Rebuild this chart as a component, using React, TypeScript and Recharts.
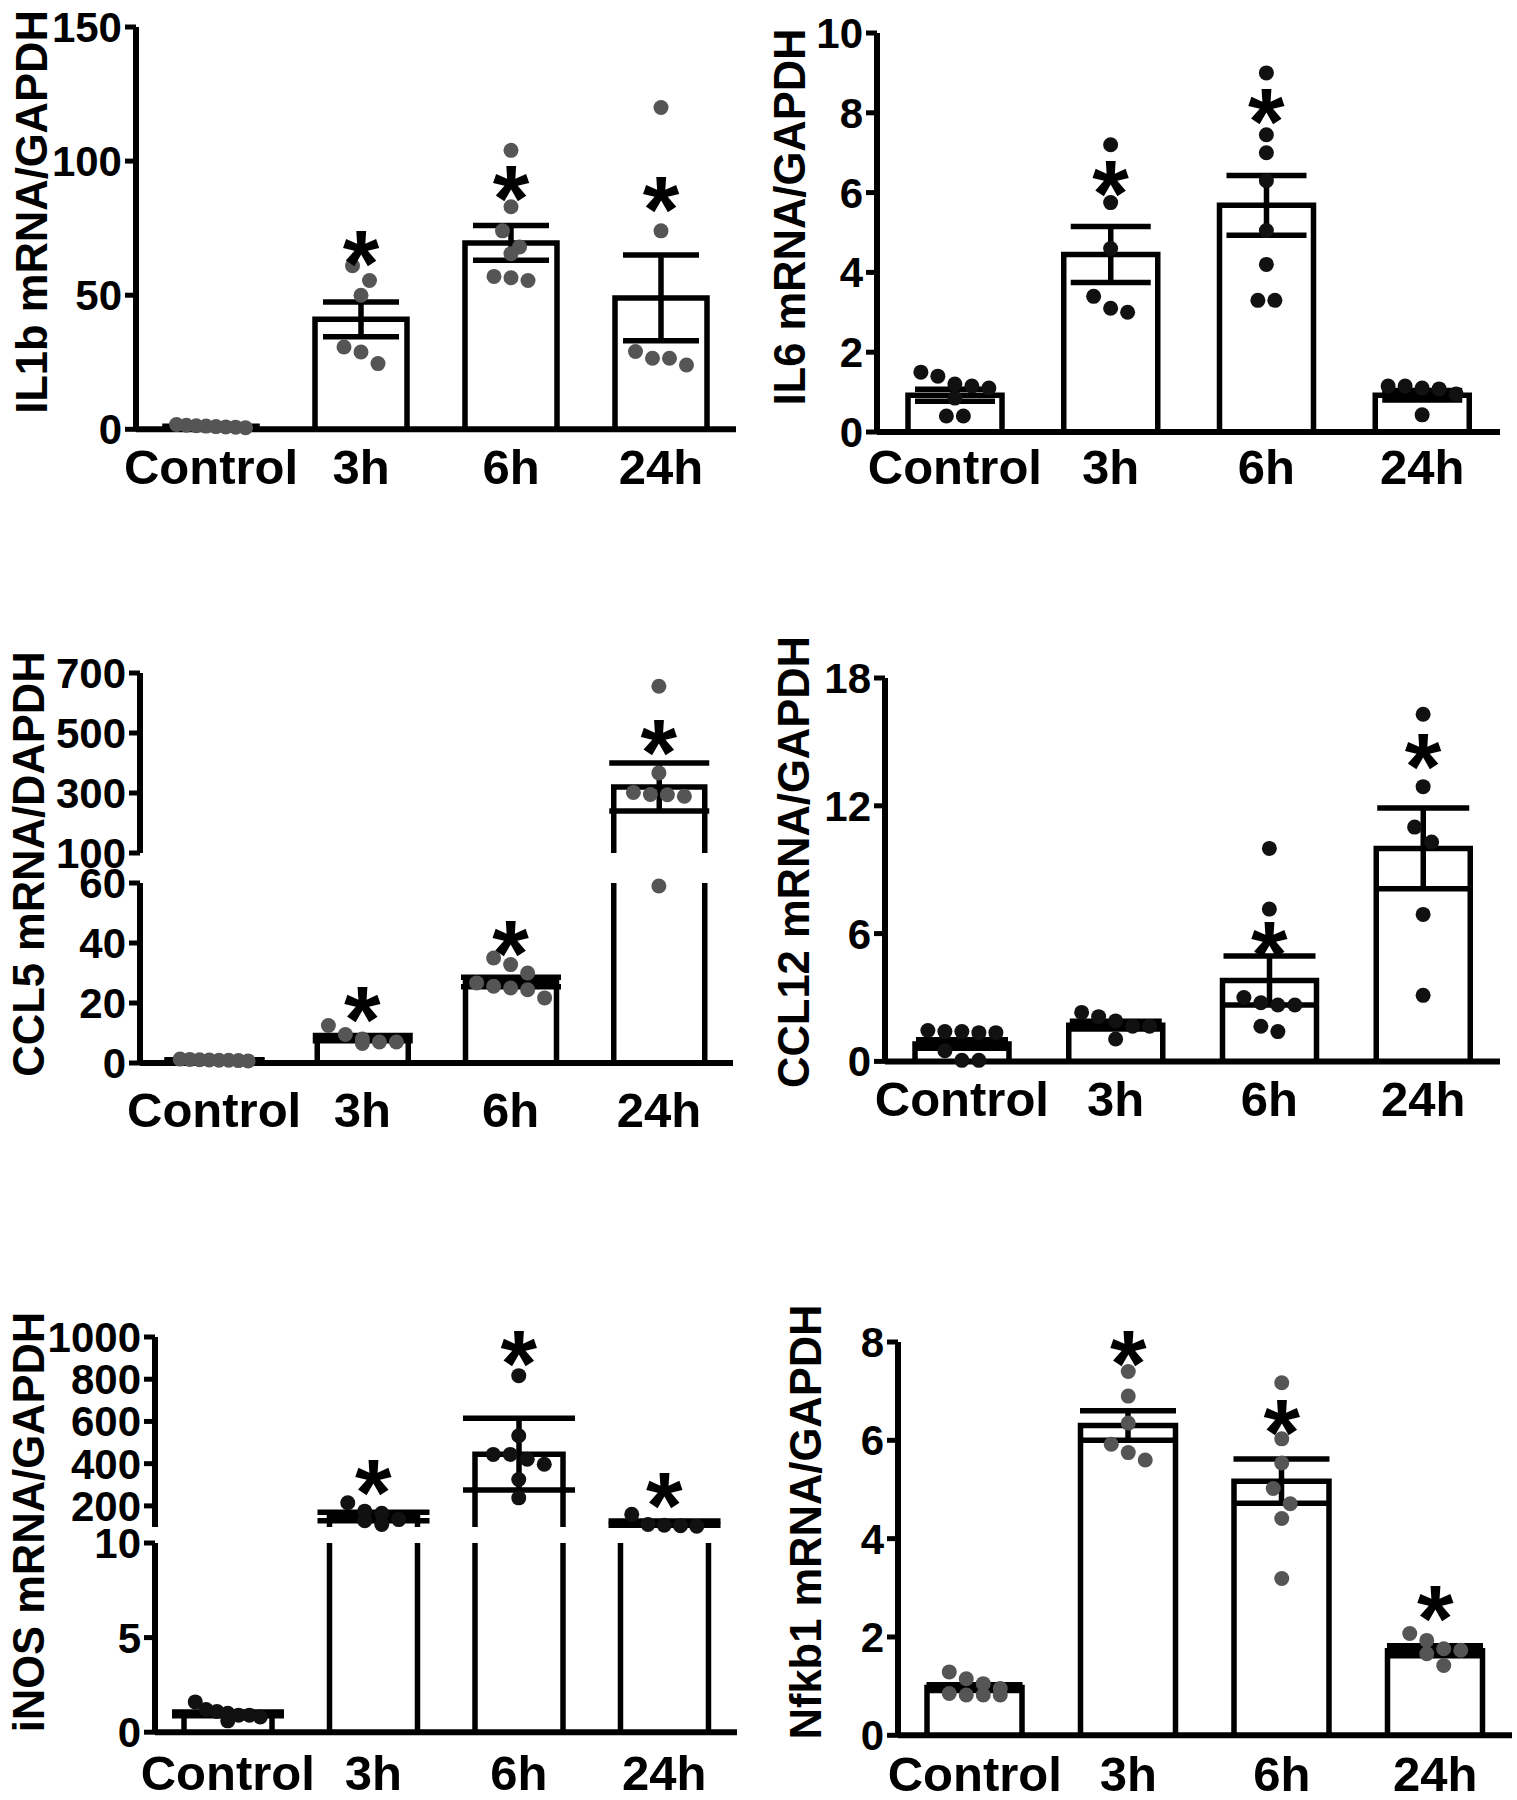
import React from "react";
import { ComposedChart, Bar, Scatter, XAxis, YAxis, ErrorBar } from "recharts";

const FONT = '"Liberation Sans", Arial, Helvetica, sans-serif';
const groups = ["Control", "3h", "6h", "24h"];

// IL1b
const il1bMean = [1.1, 41, 69.5, 49];
const il1bSem = [0.3, 6.5, 6.5, 16];
const il1bDots = [
  [0.8, 1.2, 1.0, 1.5, 1.3, 1.8, 0.9, 0.6],
  [61, 55.5, 50, 30.7, 28.8, 24.5],
  [104, 83, 74, 68, 65.5, 57, 56.5, 55.5],
  [120, 74, 29, 26.5, 26.5, 24],
];
const il1bStars = [null, 68, 92, 88];

// IL6
const il6Mean = [0.92, 4.45, 5.68, 0.92];
const il6Sem = [0.15, 0.7, 0.75, 0.12];
const il6Dots = [
  [1.15, 0.85, 1.1, 1.2, 1.5, 1.4, 0.4, 0.4],
  [7.2, 5.75, 4.6, 3.4, 3.1, 3.0],
  [9.0, 7.45, 7.0, 6.3, 5.05, 4.2, 3.3, 3.3],
  [1.15, 1.1, 1.08, 1.15, 0.95, 0.43],
];
const il6Stars = [null, 6.4, 8.2, null];

// CCL5
const ccl5Mean = [1.0, 8.3, 27, 320];
const ccl5Sem = [0.1, 0.9, 1.6, 80];
const ccl5Dots = [
  [0.8, 1.2, 0.9, 1.1, 1.3, 0.7, 1.0, 0.9],
  [9.5, 12.5, 7.0, 6.5, 8.0, 7.0],
  [35, 32.8, 30, 26.7, 25, 24.4, 25.6, 21.7],
  [656, 367, 302, 295, 294, 289, 59],
];
const ccl5Stars = [null, 20, 42, 490];

// CCL12
const ccl12Mean = [0.82, 1.7, 3.8, 10.0];
const ccl12Sem = [0.2, 0.18, 1.15, 1.9];
const ccl12Dots = [
  [1.35, 1.35, 1.4, 1.45, 1.4, 0.5, 0.05, 0.05],
  [2.1, 1.9, 2.3, 1.65, 1.65, 1.05],
  [10.0, 7.15, 2.75, 2.65, 2.65, 3.0, 1.65, 1.4],
  [16.3, 12.9, 11.0, 10.3, 6.9, 3.1],
];
const ccl12Stars = [null, null, 5.8, 14.6];

// iNOS
const inosMean = [0.97, 150, 445, 118];
const inosSem = [0.1, 20, 170, 10];
const inosDots = [
  [1.0, 0.9, 0.8, 1.1, 1.6, 1.2, 0.9, 0.6],
  [175, 215, 165, 135, 130, 112],
  [817, 532, 444, 444, 421, 397, 325, 238],
  [160, 112, 108, 106, 104],
];
const inosStars = [null, 340, 950, 280];

// Nfkb1
const nfkbMean = [0.97, 6.3, 5.17, 1.72];
const nfkbSem = [0.06, 0.3, 0.45, 0.1];
const nfkbDots = [
  [1.05, 0.85, 0.82, 1.29, 0.82, 1.15, 0.82, 0.95],
  [7.4, 6.9, 6.35, 5.92, 5.75, 5.6],
  [7.17, 6.03, 5.54, 5.02, 4.71, 4.41, 3.19],
  [1.76, 1.93, 2.07, 1.73, 1.66, 1.42],
];
const nfkbStars = [null, 7.9, 6.5, 2.7];

type Seg = { min: number; max: number; top: number; bot: number; ticks: number[] };
type Panel = {
  title: string;
  colX: number;
  axisX: number;
  axisEnd: number;
  segs: Seg[];
  mean: number[];
  sem: number[];
  dots: number[][];
  stars: (number | null)[];
  labelX: number;
  labelY: number;
  xGap: number;
  dotColor: string;
  barW: number;
  capW: number;
};

const GRAY = "#555";
const BLACK = "#111";

const panels: Panel[] = [
  {
    title: "IL1b mRNA/GAPDH", colX: 0, axisX: 136, axisEnd: 736,
    segs: [{ min: 0, max: 150, top: 26.7, bot: 429, ticks: [0, 50, 100, 150] }],
    mean: il1bMean, sem: il1bSem, dots: il1bDots, stars: il1bStars,
    labelX: 32, labelY: 212, xGap: 37, dotColor: GRAY, barW: 92, capW: 38,
  },
  {
    title: "IL6 mRNA/GAPDH", colX: 760, axisX: 877, axisEnd: 1500,
    segs: [{ min: 0, max: 10, top: 33.3, bot: 432.3, ticks: [0, 2, 4, 6, 8, 10] }],
    mean: il6Mean, sem: il6Sem, dots: il6Dots, stars: il6Stars,
    labelX: 790, labelY: 217, xGap: 34, dotColor: BLACK, barW: 94, capW: 40,
  },
  {
    title: "CCL5 mRNA/DAPDH", colX: 0, axisX: 140, axisEnd: 733,
    segs: [
      { min: 0, max: 60, top: 883.3, bot: 1063.3, ticks: [0, 20, 40, 60] },
      { min: 100, max: 700, top: 673.3, bot: 853.3, ticks: [100, 300, 500, 700] },
    ],
    mean: ccl5Mean, sem: ccl5Sem, dots: ccl5Dots, stars: ccl5Stars,
    labelX: 29, labelY: 864, xGap: 46, dotColor: GRAY, barW: 91, capW: 50,
  },
  {
    title: "CCL12 mRNA/GAPDH", colX: 760, axisX: 885, axisEnd: 1500,
    segs: [{ min: 0, max: 18, top: 678.3, bot: 1061.7, ticks: [0, 6, 12, 18] }],
    mean: ccl12Mean, sem: ccl12Sem, dots: ccl12Dots, stars: ccl12Stars,
    labelX: 794, labelY: 862, xGap: 37, dotColor: BLACK, barW: 94, capW: 46,
  },
  {
    title: "iNOS mRNA/GAPDH", colX: 0, axisX: 155, axisEnd: 737,
    segs: [
      { min: 0, max: 10, top: 1543.3, bot: 1732.5, ticks: [0, 5, 10] },
      { min: 100, max: 1000, top: 1336.7, bot: 1526.7, ticks: [200, 400, 600, 800, 1000] },
    ],
    mean: inosMean, sem: inosSem, dots: inosDots, stars: inosStars,
    labelX: 29, labelY: 1522, xGap: 40, dotColor: BLACK, barW: 88, capW: 56,
  },
  {
    title: "Nfkb1 mRNA/GAPDH", colX: 760, axisX: 898, axisEnd: 1512,
    segs: [{ min: 0, max: 8, top: 1341.7, bot: 1735, ticks: [0, 2, 4, 6, 8] }],
    mean: nfkbMean, sem: nfkbSem, dots: nfkbDots, stars: nfkbStars,
    labelX: 806, labelY: 1522, xGap: 38, dotColor: GRAY, barW: 95, capW: 48,
  },
];

const MT = 30;
const MR = 14;
const R = 7.5;
const STAR = 94;

const ok = (v: unknown) => typeof v === "number" && Number.isFinite(v);

// lay dots of close values side by side, like a column scatter
function spread(values: number[], pxPerUnit: number, maxSpan: number) {
  const order = values.map((_, i) => i).sort((a, b) => values[b] - values[a]);
  const offs = new Array(values.length).fill(0);
  let row: number[] = [];
  let rowTop = 0;
  const flush = () => {
    const n = row.length;
    const step = n > 1 ? Math.min(2 * R + 2, maxSpan / (n - 1)) : 0;
    row.forEach((k, j) => (offs[k] = (j - (n - 1) / 2) * step));
    row = [];
  };
  for (const k of order) {
    if (row.length && (rowTop - values[k]) * pxPerUnit > 2 * R + 2) flush();
    if (!row.length) rowTop = values[k];
    row.push(k);
  }
  flush();
  return offs;
}

function SegmentChart({ p, seg, first }: { p: Panel; seg: Seg; first: boolean }) {
  const plotH = seg.bot - seg.top;
  const bottomPad = first ? 100 : 30;
  const width = p.axisEnd - p.colX + MR;
  const height = MT + plotH + bottomPad;
  const chartTop = seg.top - MT;
  const yw = p.axisX - p.colX;
  const band = (p.axisEnd - p.axisX) / groups.length;
  const pxPerUnit = plotH / (seg.max - seg.min);
  const broken = p.segs.length > 1;

  const rows = groups.map((name, i) => {
    const m = p.mean[i];
    const inside = m >= seg.min && m <= seg.max;
    const drawn = inside || (first && m > seg.max);
    return { name, mean: drawn ? m : null, sem: inside ? p.sem[i] : null };
  });

  const dots: { x: number; y: number }[] = [];
  p.dots.forEach((vals, i) => {
    const inSeg = vals.filter((v) => v >= seg.min && v <= seg.max);
    const offs = spread(inSeg, pxPerUnit, p.barW - 2 * R - 8);
    inSeg.forEach((v, k) => dots.push({ x: i + 0.5 + offs[k] / band, y: v }));
  });

  const stars: { x: number; y: number }[] = [];
  p.stars.forEach((v, i) => {
    if (v != null && v >= seg.min && v <= seg.max) stars.push({ x: i + 0.5, y: v });
  });

  // eslint-disable-next-line @typescript-eslint/no-explicit-any
  const barShape = (props: any) => {
    const { x, y, width: w, height: h } = props;
    if (!ok(x) || !ok(y) || !ok(h) || !ok(w)) return <g />;
    let top = Math.min(y, y + h);
    const bottom = Math.max(y, y + h);
    const open = top < MT - 0.5;
    if (open) top = MT;
    const d = open
      ? `M${x},${bottom}L${x},${top}M${x + w},${top}L${x + w},${bottom}`
      : `M${x},${bottom}L${x},${top}L${x + w},${top}L${x + w},${bottom}`;
    return (
      <g>
        <rect x={x} y={top} width={w} height={bottom - top} fill="#fff" />
        <path d={d} fill="none" stroke="#000" strokeWidth={5.5} />
      </g>
    );
  };

  // eslint-disable-next-line @typescript-eslint/no-explicit-any
  const dotShape = (props: any) =>
    ok(props.cx) && ok(props.cy) ? <circle cx={props.cx} cy={props.cy} r={R} fill={p.dotColor} /> : <g />;

  // eslint-disable-next-line @typescript-eslint/no-explicit-any
  const starShape = (props: any) =>
    ok(props.cx) && ok(props.cy) && props.cx > 1 ? (
      <text x={props.cx} y={props.cy + STAR * 0.52} textAnchor="middle" fontSize={STAR}
        fontWeight={700} fontFamily={FONT} fill="#000">*</text>
    ) : (
      <g />
    );

  return (
    <div style={{ position: "absolute", left: p.colX, top: chartTop }}>
      <ComposedChart width={width} height={height} data={rows}
        margin={{ top: MT, right: MR, left: 0, bottom: first ? 0 : 30 }}>
        <XAxis xAxisId="c" dataKey="name" type="category" hide={!first} height={100}
          tickLine={false} tickSize={0} tickMargin={p.xGap - 17} interval={0}
          axisLine={{ stroke: "#000", strokeWidth: 6 }}
          tick={{ fill: "#000", fontSize: 49, fontWeight: 700, fontFamily: FONT }} />
        <XAxis xAxisId="n" dataKey="x" type="number" domain={[0, groups.length]} hide />
        <YAxis yAxisId="b" type="number" width={yw} domain={[seg.min, seg.max]}
          ticks={seg.ticks} interval={0} allowDataOverflow={broken && first}
          tickSize={11} tickMargin={3}
          tickLine={{ stroke: "#000", strokeWidth: 5 }}
          axisLine={{ stroke: "#000", strokeWidth: 6 }}
          tick={{ fill: "#000", fontSize: 42, fontWeight: 700, fontFamily: FONT }} />
        <YAxis yAxisId="s" dataKey="y" type="number" domain={[seg.min, seg.max]} hide />
        <Bar xAxisId="c" yAxisId="b" dataKey="mean" barSize={p.barW} shape={barShape}
          isAnimationActive={false}>
          <ErrorBar dataKey="sem" width={p.capW} stroke="#000" strokeWidth={5.5} direction="y" />
        </Bar>
        <Scatter xAxisId="n" yAxisId="s" data={dots} shape={dotShape} isAnimationActive={false} />
        {stars.length > 0 && (
          <Scatter xAxisId="n" yAxisId="s" data={stars} shape={starShape} isAnimationActive={false} />
        )}
      </ComposedChart>
    </div>
  );
}

export default function App() {
  return (
    <div style={{ position: "relative", width: 1517, height: 1800, background: "#fff" }}>
      <style>{"body{margin:0}"}</style>
      {panels.map((p) =>
        p.segs.map((seg, k) => (
          <SegmentChart key={p.title + k} p={p} seg={seg} first={k === 0} />
        ))
      )}
      <svg width={1517} height={1800}
        style={{ position: "absolute", left: 0, top: 0, pointerEvents: "none" }}>
        {panels.map((p) => (
          <text key={p.title}
            transform={`translate(${p.labelX},${p.labelY}) rotate(-90)`}
            textAnchor="middle" dominantBaseline="central" fontSize={43.5}
            fontWeight={700} fontFamily={FONT} fill="#000">
            {p.title}
          </text>
        ))}
      </svg>
    </div>
  );
}
